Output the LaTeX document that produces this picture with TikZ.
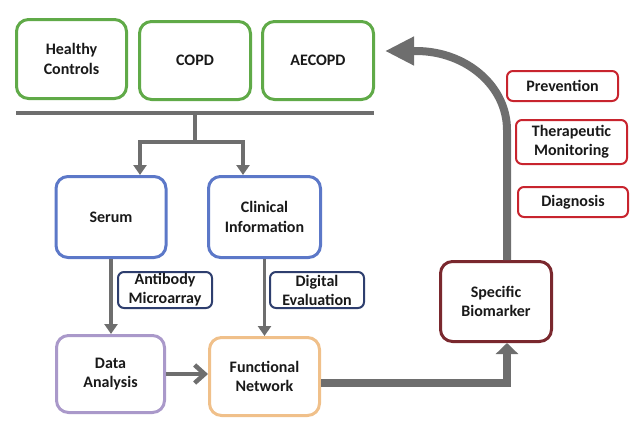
\documentclass[tikz,border=0pt]{standalone}
\usepackage{fontspec}
\setmainfont{Carlito}
\usetikzlibrary{arrows.meta}
\definecolor{cgreen}{RGB}{96,170,72}
\definecolor{cblue}{RGB}{92,120,200}
\definecolor{cnavy}{RGB}{46,62,110}
\definecolor{cpurple}{RGB}{170,153,202}
\definecolor{corange}{RGB}{240,192,138}
\definecolor{cdred}{RGB}{122,40,46}
\definecolor{cred}{RGB}{200,36,46}
\definecolor{cgray}{RGB}{110,110,110}
\definecolor{ctext}{RGB}{25,25,25}
\tikzset{
  box/.style={draw, line width=3pt, rounded corners=12pt, align=center, fill=white,
    text=ctext, font=\fontsize{16}{19.5}\selectfont\bfseries, inner sep=0pt},
  sbox/.style={draw, line width=2pt, rounded corners=6pt, align=center, fill=white,
    text=ctext, font=\fontsize{16}{19}\selectfont\bfseries, inner sep=0pt},
  conn/.style={draw=cgray, line width=3.5pt},
  carrow/.style={conn, -{Triangle[width=13pt,length=10pt]}},
  bigconn/.style={draw=cgray, line width=8pt},
}
\begin{document}
\begin{tikzpicture}[x=1pt,y=-1pt]
\useasboundingbox (0,0) rectangle (640,429);
% top boxes
\node[box, draw=cgreen, minimum width=110pt, minimum height=79pt] (hc) at (71.5,59) {Healthy\\Controls};
\node[box, draw=cgreen, minimum width=111pt, minimum height=78pt] (copd) at (195,60.5) {COPD};
\node[box, draw=cgreen, minimum width=111pt, minimum height=78pt] (aecopd) at (318,60.5) {AECOPD};
% middle
\node[box, draw=cblue, minimum width=110pt, minimum height=81pt] (serum) at (111,217) {Serum};
\node[box, draw=cblue, minimum width=112pt, minimum height=81pt] (clin) at (264.5,217) {Clinical\\Information};
% bottom
\node[box, draw=cpurple, minimum width=108pt, minimum height=77pt] (data) at (110.5,374) {Data\\Analysis};
\node[box, draw=corange, minimum width=110pt, minimum height=78pt] (func) at (264.5,376.5) {Functional\\Network};
\node[box, draw=cdred, minimum width=111pt, minimum height=80pt] (bio) at (496,301.5) {Specific\\Biomarker};
% red boxes
\node[sbox, draw=cred, minimum width=111pt, minimum height=30pt] (prev) at (562.5,86) {Prevention};
\node[sbox, draw=cred, minimum width=111pt, minimum height=44pt] (ther) at (571.5,142) {Therapeutic\\Monitoring};
\node[sbox, draw=cred, minimum width=110pt, minimum height=30pt] (diag) at (573,202) {Diagnosis};
% bar and split
\coordinate (barL) at (16,113);
\coordinate (barR) at (374,113);
\coordinate (barM) at (195,113);
\coordinate (split) at (195,142);
\coordinate (j1) at (140,142);
\coordinate (j2) at (243,142);
\draw[draw=cgray, line width=4pt] (barL) -- (barR);
\draw[conn] (barM) -- (split);
\draw[conn] ([xshift=-1.75pt]j1) -- ([xshift=1.75pt]j2);
\draw[carrow] (j1) -- (j1 |- serum.north);
\draw[carrow] (j2) -- (j2 |- clin.north);
% vertical connectors
\draw[carrow] (serum.south) -- (serum.south |- data.north);
\draw[carrow] (clin.south) -- (clin.south |- func.north);
% labels on connectors
\node[sbox, draw=cnavy, minimum width=94pt, minimum height=36pt] (anti) at (165,290) {Antibody\\Microarray};
\node[sbox, draw=cnavy, minimum width=94pt, minimum height=36pt] (dig) at (317,290) {Digital\\Evaluation};
% data -> functional
\draw[conn, line width=4.5pt, -{Straight Barb[width=18pt,length=10pt]}] (data.east) -- (data.east -| func.west);
% functional -> biomarker
\draw[bigconn, -{Triangle[width=22pt,length=11pt]}] ([yshift=-6.5pt]func.east) -| ([xshift=11pt]bio.south);
% biomarker -> top
\coordinate (bend) at (507,130);
\coordinate (tipend) at (385,51);
\draw[bigconn, -{Triangle[width=27pt,length=29pt]}] ([xshift=11pt]bio.north) -- (bend)
  .. controls (507,86) and (466,51) .. (416,51) -- (tipend);
\end{tikzpicture}
\end{document}
